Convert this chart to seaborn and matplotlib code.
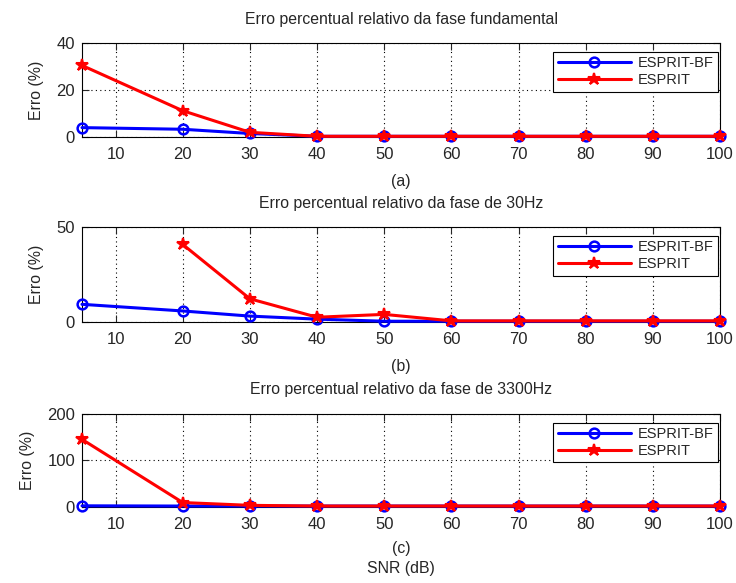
import numpy as np
import pandas as pd
import matplotlib
matplotlib.use("Agg")
import matplotlib.pyplot as plt
import seaborn as sns

snr = [5, 20, 30, 40, 50, 60, 70, 80, 90, 100]

bf_fund = [4.0, 3.3, 1.5, 0.3, 0.3, 0.3, 0.3, 0.3, 0.3, 0.3]
es_fund = [30.5, 11.2, 2.0, 0.3, 0.3, 0.3, 0.3, 0.3, 0.3, 0.3]

bf_30 = [9.3, 5.8, 3.1, 1.5, 0.4, 0.4, 0.4, 0.4, 0.4, 0.4]
es_30 = [np.nan, 40.8, 12.2, 2.5, 4.0, 0.6, 0.6, 0.6, 0.6, 0.6]

bf_3300 = [2.5, 2.0, 2.0, 2.0, 2.0, 2.0, 2.0, 2.0, 2.0, 2.0]
es_3300 = [145.0, 9.5, 3.5, 2.0, 2.0, 2.0, 2.0, 2.0, 2.0, 2.0]

titles = ["Erro percentual relativo da fase fundamental",
          "Erro percentual relativo da fase de 30Hz",
          "Erro percentual relativo da fase de 3300Hz"]
sublabels = ["(a)", "(b)", "(c)"]
yticks_list = [[0, 20, 40], [0, 50], [0, 100, 200]]
xticks = [10, 20, 30, 40, 50, 60, 70, 80, 90, 100]
labels = ["ESPRIT-BF", "ESPRIT"]

sns.set_style("white")
plt.rcParams['font.family'] = ['Liberation Sans', 'DejaVu Sans']
FS = 11.4
TFS = 12

fig = plt.figure(figsize=(7.36, 5.83), dpi=100)
positions = [[0.1114, 0.765, 0.867, 0.161],
             [0.1114, 0.4477, 0.867, 0.163],
             [0.1114, 0.1304, 0.867, 0.160]]
series = [(bf_fund, es_fund), (bf_30, es_30), (bf_3300, es_3300)]

for i, (pos, (bf, es)) in enumerate(zip(positions, series)):
    ax = fig.add_axes(pos)
    df_bf = pd.DataFrame({"SNR": snr, "Erro": bf})
    df_es = pd.DataFrame({"SNR": snr, "Erro": es}).dropna()
    sns.lineplot(data=df_bf, x="SNR", y="Erro", ax=ax, color="#0000ff",
                 marker="o", markersize=7, markerfacecolor="none",
                 markeredgecolor="#0000ff", markeredgewidth=1.8, linewidth=2.2,
                 label=labels[0], zorder=3, clip_on=False)
    sns.lineplot(data=df_es, x="SNR", y="Erro", ax=ax, color="#ff0000",
                 marker="*", markersize=9, markeredgecolor="#ff0000",
                 markeredgewidth=1.5, linewidth=2.2,
                 label=labels[1], zorder=4, clip_on=False)
    yt = yticks_list[i]
    ax.set_xlim(5, 100)
    ax.set_ylim(yt[0], yt[-1])
    ax.set_xticks(xticks)
    ax.set_yticks(yt)
    ax.grid(True, linestyle=(0, (1, 3)), color="black", linewidth=0.8)
    ax.set_axisbelow(True)
    ax.tick_params(direction="in", length=5, top=True, right=True,
                   bottom=True, left=True, labelsize=TFS, width=0.8)
    ax.tick_params(axis="x", pad=7)
    ax.tick_params(axis="y", pad=5)
    for s in ax.spines.values():
        s.set_color("black")
        s.set_linewidth(0.8)
    ax.set_title(titles[i], fontsize=FS, pad=14)
    ax.set_ylabel("Erro (%)", fontsize=FS, labelpad=9)
    if i == 2:
        ax.set_xlabel("(c)\nSNR (dB)", fontsize=FS, labelpad=7, linespacing=1.4)
    else:
        ax.set_xlabel(sublabels[i], fontsize=FS, labelpad=9)
    leg = ax.legend(loc="upper right", frameon=True, fancybox=False,
                    edgecolor="black", framealpha=1, fontsize=10.5,
                    borderpad=0.3, handlelength=5.0, handletextpad=0.5,
                    labelspacing=0.2, borderaxespad=0,
                    bbox_to_anchor=(0.997, 0.905))
    leg.get_frame().set_linewidth(0.8)

fig.savefig("out.png", dpi=100, facecolor="white")
